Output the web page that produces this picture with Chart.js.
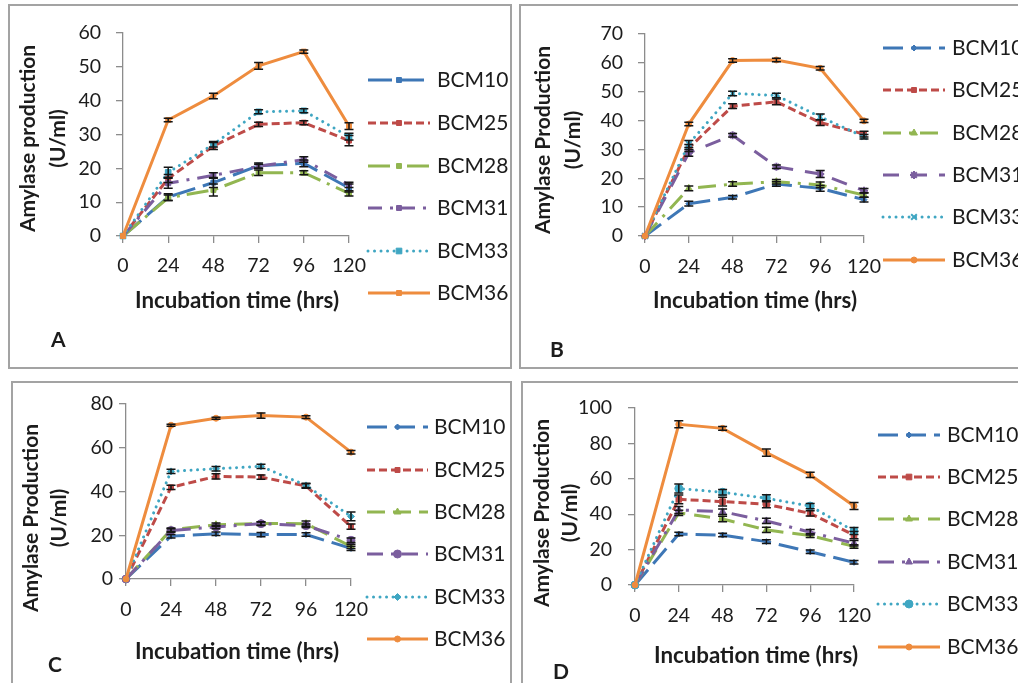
<!DOCTYPE html>
<html><head><meta charset="utf-8">
<script src="https://cdn.jsdelivr.net/npm/chart.js@4.4.0/dist/chart.umd.min.js"></script>
<style>
html,body{margin:0;padding:0;background:#fff;width:1018px;height:683px;overflow:hidden;position:relative}
.box{position:absolute;box-sizing:border-box;border:2px solid #a3a3a3}
canvas{position:absolute}
</style></head><body>
<div class="box" style="left:8px;top:4px;width:504px;height:365px"></div>
<div class="box" style="left:519px;top:4px;width:600px;height:365px"></div>
<div class="box" style="left:11px;top:381px;width:501px;height:400px"></div>
<div class="box" style="left:521px;top:381px;width:600px;height:400px"></div>
<canvas id="cA" width="515" height="375" style="left:0;top:0"></canvas>
<canvas id="cB" width="503" height="375" style="left:515px;top:0"></canvas>
<canvas id="cC" width="515" height="308" style="left:0;top:375px"></canvas>
<canvas id="cD" width="503" height="308" style="left:515px;top:375px"></canvas>
<script>
// ---------- data ----------
const categories = ['0','24','48','72','96','120'];
const seriesNames = ['BCM10','BCM25','BCM28','BCM31','BCM33','BCM36'];
const yTicksA = [0,10,20,30,40,50,60];
const yTicksB = [0,10,20,30,40,50,60,70];
const yTicksC = [0,20,40,60,80];
const yTicksD = [0,20,40,60,80,100];

const valuesA = [
  [0, 11.5, 15.8, 20.8, 21.5, 14.2],
  [0, 17.0, 26.6, 33.0, 33.5, 28.2],
  [0, 11.3, 13.6, 18.7, 18.7, 12.6],
  [0, 15.6, 17.9, 20.6, 22.6, 15.1],
  [0, 18.8, 27.1, 36.7, 37.0, 29.4],
  [0, 34.3, 41.4, 50.3, 54.5, 32.5]
];
const errorsA = [
  [0, 1.0, 1.5, 0.8, 1.0, 1.2],
  [0, 1.2, 1.0, 0.6, 0.6, 1.5],
  [0, 0.8, 1.8, 0.8, 0.6, 0.8],
  [0, 1.5, 0.8, 0.6, 0.8, 0.8],
  [0, 1.5, 0.8, 0.6, 0.6, 1.0],
  [0, 0.5, 0.8, 1.0, 0.5, 1.0]
];
const valuesB = [
  [0, 11.2, 13.4, 18.0, 16.5, 12.6],
  [0, 30.5, 45.0, 46.5, 39.3, 35.3],
  [0, 16.5, 18.0, 18.8, 17.7, 14.2],
  [0, 28.8, 34.9, 24.0, 21.5, 15.7],
  [0, 31.9, 49.4, 48.7, 41.3, 34.4],
  [0, 38.8, 60.8, 61.0, 58.1, 39.9]
];
const errorsB = [
  [0, 0.8, 0.6, 0.8, 1.0, 0.8],
  [0, 1.2, 0.8, 1.0, 1.0, 1.0],
  [0, 0.8, 0.8, 0.8, 1.0, 0.8],
  [0, 1.2, 0.6, 0.6, 1.2, 0.8],
  [0, 1.2, 0.8, 0.8, 1.0, 0.8],
  [0, 0.6, 0.6, 0.6, 0.6, 0.6]
];
const valuesC = [
  [0, 19.6, 20.7, 20.3, 20.3, 14.0],
  [0, 41.9, 46.9, 46.6, 42.5, 24.0],
  [0, 22.5, 24.8, 25.4, 25.3, 14.9],
  [0, 22.2, 23.8, 25.3, 24.4, 17.7],
  [0, 49.2, 50.4, 51.5, 42.8, 28.6],
  [0, 70.3, 73.5, 74.7, 74.0, 58.0]
];
const errorsC = [
  [0, 0.8, 0.8, 1.0, 0.8, 1.0],
  [0, 1.0, 1.2, 1.0, 1.0, 1.2],
  [0, 0.8, 0.8, 0.8, 1.2, 1.0],
  [0, 0.8, 0.8, 0.8, 0.8, 1.0],
  [0, 1.0, 1.0, 1.0, 1.0, 2.0],
  [0, 0.5, 0.5, 1.2, 0.6, 0.8]
];
const valuesD = [
  [0, 28.8, 28.2, 24.5, 18.8, 12.8],
  [0, 48.4, 47.1, 45.6, 40.5, 28.2],
  [0, 40.8, 37.3, 31.1, 27.9, 21.8],
  [0, 42.4, 41.4, 36.2, 29.8, 23.6],
  [0, 54.5, 52.4, 49.0, 44.6, 30.5],
  [0, 90.8, 88.5, 74.8, 62.2, 44.6]
];
const errorsD = [
  [0, 1.0, 1.0, 1.0, 1.0, 1.0],
  [0, 2.5, 2.5, 2.0, 1.5, 2.0],
  [0, 1.5, 1.5, 1.5, 1.0, 1.0],
  [0, 2.0, 1.5, 1.5, 1.5, 1.5],
  [0, 2.5, 1.5, 2.0, 1.5, 2.0],
  [0, 2.0, 1.0, 2.0, 1.5, 2.0]
];

// ---------- styles ----------
const FONT = 'Lato';
const textColor = '#1c1c1c';
const axisColor = '#8c8c8c';
const colors = ['#3E77B6','#BE4B48','#92B651','#7B5E9E','#3FA6C2','#EE8C3E'];
const DOTS = [0.01, 6.5];
const dashesA = [[24,8],[8,4],[22,7,3,7],[14,8,3,8],DOTS,[]];
const dashesB = [[20,8],[8,4],[18,8,3,8],[16,12],DOTS,[]];
const dashesC = [[20,8],[8,4],[18,8],[16,8,3,8],DOTS,[]];
const dashesD = [[20,8],[8,4],[16,9],[16,8,3,8],DOTS,[]];
const markersA = [['rect',3.5],['rect',3.5],['rect',3.5],['rect',3.5],['rect',4],['rect',3.5]];
const markersB = [['rectRot',3],['rect',3.5],['triangle',4],['star',4],['crossRot',4],['circle',3]];
const markersC = [['rectRot',3],['rect',3.5],['triangle',4],['circle',4],['rectRot',3.5],['circle',3]];
const markersD = [['rectRot',3],['rect',4],['triangle',4],['triangle',4],['circle',4],['circle',3]];

const panels = [
  {id:'cA', values:valuesA, errors:errorsA, yTicks:yTicksA, dashes:dashesA, markers:markersA,
   ca:{left:123,right:349,top:33,bottom:236}, yPad:15, xPad:11,
   yTitle:['Amylase production','(U/ml)'], yBase:[34.5,64.5], yCenter:138.5,
   xCenter:237, xBase:308, letter:'A', lx:51, lBase:347,
   leg:{x0:368,x1:430,tx:437,rows:[80,123,166,208,251,293]}},
  {id:'cB', values:valuesB, errors:errorsB, yTicks:yTicksB, dashes:dashesB, markers:markersB,
   ca:{left:130,right:349,top:34,bottom:236}, yPad:15, xPad:12,
   yTitle:['Amylase Production','(U/ml)'], yBase:[35,64.5], yCenter:140,
   xCenter:240, xBase:308, letter:'B', lx:35, lBase:357,
   leg:{x0:368,x1:430,tx:437,rows:[48,90,133,175,217,260]}},
  {id:'cC', values:valuesC, errors:errorsC, yTicks:yTicksC, dashes:dashesC, markers:markersC,
   ca:{left:126,right:351,top:29,bottom:204}, yPad:6, xPad:12,
   yTitle:['Amylase Production','(U/ml)'], yBase:[37.5,66], yCenter:143,
   xCenter:237, xBase:284, letter:'C', lx:48, lBase:297,
   leg:{x0:367,x1:428,tx:434,rows:[52,95,137,179,222,264]}},
  {id:'cD', values:valuesD, errors:errorsD, yTicks:yTicksD, dashes:dashesD, markers:markersD,
   ca:{left:120,right:339,top:33,bottom:210}, yPad:16, xPad:12,
   yTitle:['Amylase Production','(U/ml)'], yBase:[33.5,61.5], yCenter:138,
   xCenter:241, xBase:288, letter:'D', lx:38, lBase:304,
   leg:{x0:363,x1:425,tx:432,rows:[60,102,144,187,229,272]}}
];

Chart.defaults.font.family = FONT;
Chart.defaults.color = textColor;

function makeChart(p) {
  const cv = document.getElementById(p.id);
  const W = cv.width, H = cv.height, XH = 40;
  const datasets = seriesNames.map((name, i) => ({
    label: name,
    data: p.values[i],
    errors: p.errors[i],
    borderColor: colors[i], backgroundColor: colors[i],
    borderWidth: 3, borderDash: p.dashes[i],
    borderCapStyle: p.dashes[i] === DOTS ? 'round' : 'butt',
    pointStyle: p.markers[i][0], pointRadius: p.markers[i][1],
    pointBackgroundColor: colors[i], pointBorderColor: colors[i],
    pointBorderWidth: (p.markers[i][0]==='star'||p.markers[i][0]==='crossRot') ? 2 : 1,
    fill: false, tension: 0, clip: false, order: 5 - i
  }));

  const errorBars = {
    id: 'errorBars',
    afterDatasetsDraw(chart) {
      const ctx = chart.ctx, ys = chart.scales.y;
      ctx.save();
      ctx.strokeStyle = '#151515'; ctx.lineWidth = 1.5; ctx.setLineDash([]);
      chart.data.datasets.forEach((ds, di) => {
        const meta = chart.getDatasetMeta(di);
        meta.data.forEach((pt, k) => {
          const e = ds.errors[k];
          if (!e) return;
          const v = ds.data[k];
          const y1 = ys.getPixelForValue(v + e), y2 = ys.getPixelForValue(v - e);
          ctx.beginPath();
          ctx.moveTo(pt.x, y1); ctx.lineTo(pt.x, y2);
          ctx.moveTo(pt.x - 4.5, y1); ctx.lineTo(pt.x + 4.5, y1);
          ctx.moveTo(pt.x - 4.5, y2); ctx.lineTo(pt.x + 4.5, y2);
          ctx.stroke();
        });
      });
      ctx.restore();
    }
  };

  const panelText = {
    id: 'panelText',
    afterDraw(chart) {
      const ctx = chart.ctx;
      ctx.save();
      ctx.fillStyle = textColor;
      // y title
      ctx.font = 'bold 21px ' + FONT;
      p.yTitle.forEach((t, k) => {
        ctx.save();
        ctx.translate(p.yBase[k], p.yCenter);
        ctx.rotate(-Math.PI / 2);
        ctx.textAlign = 'center'; ctx.textBaseline = 'alphabetic';
        ctx.fillText(t, 0, 0);
        ctx.restore();
      });
      // x title
      ctx.font = 'bold 22.3px ' + FONT;
      ctx.textAlign = 'center'; ctx.textBaseline = 'alphabetic';
      ctx.fillText('Incubation time (hrs)', p.xCenter, p.xBase);
      // letter
      ctx.font = 'bold 21px ' + FONT;
      ctx.textAlign = 'left';
      ctx.fillText(p.letter, p.lx, p.lBase);
      // legend
      const L = p.leg;
      chart.data.datasets.forEach((ds, i) => {
        const y = L.rows[i];
        ctx.save();
        ctx.strokeStyle = ds.borderColor; ctx.lineWidth = ds.borderWidth;
        ctx.setLineDash(ds.borderDash); ctx.lineCap = ds.borderCapStyle;
        ctx.beginPath(); ctx.moveTo(L.x0, y); ctx.lineTo(L.x1, y); ctx.stroke();
        ctx.setLineDash([]); ctx.lineCap = 'butt';
        ctx.fillStyle = ds.pointBackgroundColor; ctx.strokeStyle = ds.pointBorderColor;
        ctx.lineWidth = ds.pointBorderWidth;
        Chart.helpers.drawPoint(ctx, {pointStyle: ds.pointStyle, radius: ds.pointRadius,
          borderWidth: ds.pointBorderWidth, rotation: 0}, (L.x0 + L.x1) / 2, y);
        ctx.fillStyle = textColor;
        ctx.font = '21px ' + FONT;
        ctx.textAlign = 'left'; ctx.textBaseline = 'middle';
        ctx.fillText(ds.label, L.tx, y);
        ctx.restore();
      });
      ctx.restore();
    }
  };

  return new Chart(cv, {
    type: 'line',
    data: { labels: categories, datasets },
    options: {
      responsive: false, animation: false, devicePixelRatio: 1,
      layout: { padding: { left: 0, top: p.ca.top, right: W - p.ca.right, bottom: H - p.ca.bottom - XH } },
      plugins: { legend: { display: false }, tooltip: { enabled: false } },
      scales: {
        x: {
          type: 'category', offset: false,
          grid: { drawOnChartArea: false, drawTicks: true, tickLength: 7, color: axisColor, lineWidth: 1.3 },
          border: { display: true, color: axisColor, width: 1.3 },
          ticks: { font: { size: 19.5 }, color: textColor, padding: p.xPad, maxRotation: 0, autoSkip: false },
          afterFit: s => { s.height = XH; }
        },
        y: {
          type: 'linear', min: p.yTicks[0], max: p.yTicks[p.yTicks.length - 1],
          grid: { drawOnChartArea: false, drawTicks: true, tickLength: 7, color: axisColor, lineWidth: 1.3 },
          border: { display: true, color: axisColor, width: 1.3 },
          ticks: { font: { size: 19.5 }, color: textColor, padding: p.yPad },
          afterBuildTicks: s => { s.ticks = p.yTicks.map(v => ({ value: v })); },
          afterFit: s => { s.width = p.ca.left; }
        }
      }
    },
    plugins: [errorBars, panelText]
  });
}
panels.forEach(makeChart);
</script>
</body></html>
